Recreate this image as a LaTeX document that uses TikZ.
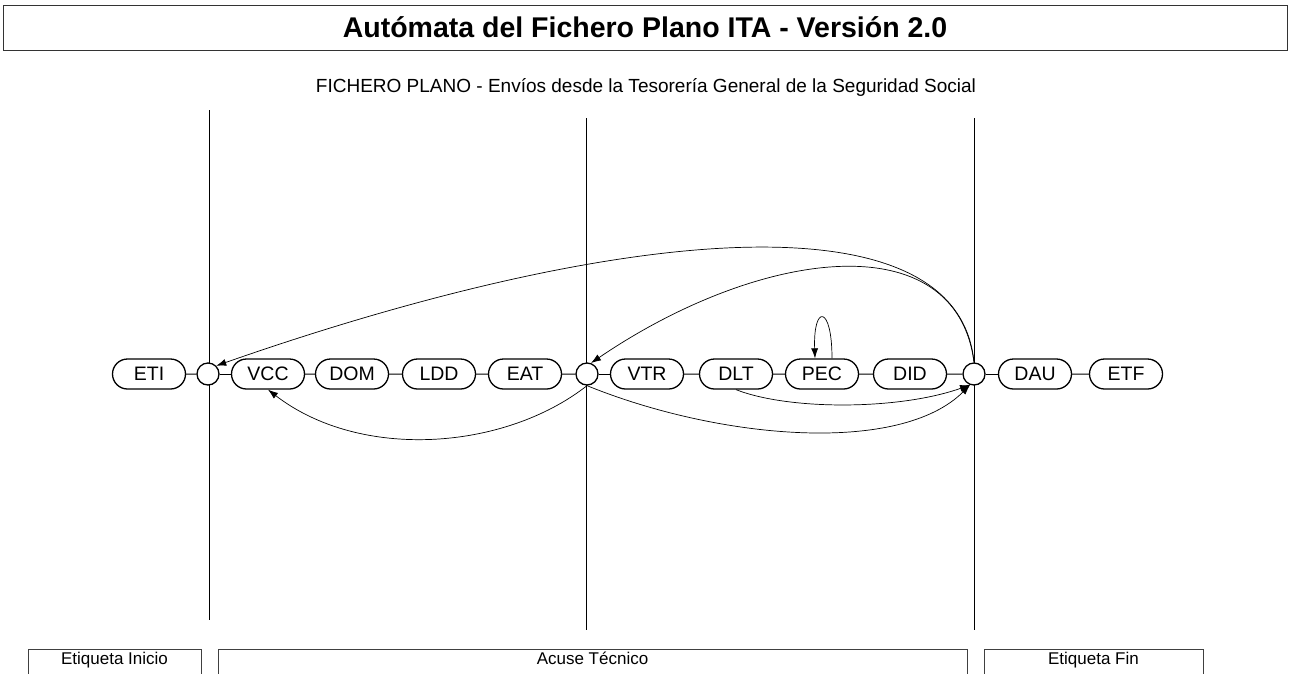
\documentclass[tikz,border=0pt]{standalone}
\usepackage{fontspec}
\setmainfont{Liberation Sans}
\usetikzlibrary{shapes.misc, arrows.meta}

\tikzset{
	registro/.style = {draw, line width=1.3pt, rounded rectangle, fill=white, minimum width=73pt, minimum height=30pt, inner sep=0pt, font=\fontsize{19.5}{22}\selectfont},
	nudo/.style = {draw, line width=1.3pt, circle, fill=white, minimum size=22pt, inner sep=0pt},
	salto/.style = {-{Latex[length=10pt, width=7pt]}, line width=0.7pt},
	fase/.style = {draw=black!75, line width=0.8pt, inner xsep=0pt, inner ysep=1pt, text height=14pt, text depth=12pt, anchor=north, font=\fontsize{17}{20}\selectfont},
}

\begin{document}
\begin{tikzpicture}[x=1pt, y=-1pt]
	\useasboundingbox (0,0) rectangle (1292,673);

	% title and subtitle
	\node (titulo) [draw=black!80, line width=1pt, minimum width=1284pt, minimum height=45pt, inner sep=0pt, font=\fontsize{28.5}{31}\bfseries] at (645,27.5) {Autómata del Fichero Plano ITA - Versión 2.0};
	\node (subtitulo) [font=\fontsize{19}{22}\selectfont] at (646,87) {FICHERO PLANO - Envíos desde la Tesorería General de la Seguridad Social};

	% phase separators
	\draw [line width=0.7pt] (209,110) -- (209,620);
	\draw [line width=0.7pt] (586,118) -- (586,630);
	\draw [line width=0.7pt] (974,118) -- (974,630);

	% states
	\node (eti) [registro] at (149,374) {ETI};
	\node (c1)  [nudo]     at (208,374) {};
	\node (vcc) [registro] at (268,374) {VCC};
	\node (dom) [registro] at (352,374) {DOM};
	\node (ldd) [registro] at (439,374) {LDD};
	\node (eat) [registro] at (525,374) {EAT};
	\node (c2)  [nudo]     at (587,374) {};
	\node (vtr) [registro] at (647,374) {VTR};
	\node (dlt) [registro] at (736,374) {DLT};
	\node (pec) [registro] at (822,374) {PEC};
	\node (did) [registro] at (910,374) {DID};
	\node (c3)  [nudo]     at (974,374) {};
	\node (dau) [registro] at (1035,374) {DAU};
	\node (etf) [registro] at (1126,374) {ETF};

	\foreach \a/\b in {eti/c1, c1/vcc, vcc/dom, dom/ldd, ldd/eat, eat/c2, c2/vtr, vtr/dlt, dlt/pec, pec/did, did/c3, c3/dau, dau/etf}
		\draw [line width=1pt] (\a) -- (\b);

	% transitions
	\draw [salto] (c3.north) .. controls +(-16,-170) and +(400,-140) .. (c1.north east);
	\draw [salto] (c3.north) .. controls +(-18,-140) and +(169,-115) .. (c2.70);
	\draw [salto] ([xshift=10pt]pec.north) .. controls +(0,-54) and +(-2,-54) .. ([xshift=-7pt]pec.north);
	\draw [salto] (c2.south) .. controls +(-83,65) and +(92,71) .. (vcc.south);
	\draw [salto] (c2.south) .. controls +(133,54) and +(-70,70) .. (c3.250);
	\draw [salto] (dlt.south) .. controls +(54,21) and +(-70,25) .. (c3.250);

	% phases
	\node (inicio) [fase, minimum width=173pt] at (114.5,649) {Etiqueta Inicio};
	\node (acuse)  [fase, minimum width=749pt] at (592.5,649) {Acuse Técnico};
	\node (fin)    [fase, minimum width=219pt] at (1093.5,649) {Etiqueta Fin};
\end{tikzpicture}
\end{document}
